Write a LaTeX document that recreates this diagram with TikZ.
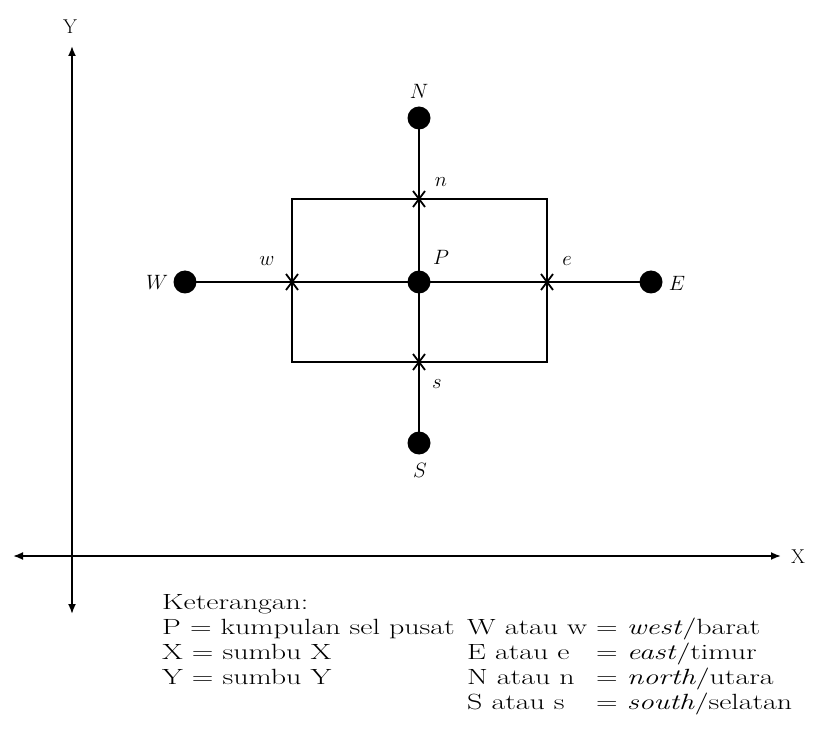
\documentclass[tikz,border=0pt]{standalone}
\usetikzlibrary{arrows.meta}
\begin{document}
\begin{tikzpicture}[x=1pt,y=-1pt,
  axis/.style={line width=1.8pt,{Latex[length=10pt,width=8pt]}-{Latex[length=10pt,width=8pt]}},
  dot/.style={circle,fill=black,inner sep=0pt,minimum size=23pt},
  lbl/.style={font=\fontsize{21}{22}\selectfont},
  axlbl/.style={font=\fontsize{20}{22}\selectfont},
  leg/.style={anchor=base west,inner sep=0pt,font=\fontsize{22}{25}\selectfont},
  crossmark/.style={line width=1.8pt},
  wire/.style={line width=2.5pt}]
\useasboundingbox (0,0) rectangle (815,754);
% axes
\coordinate (yT) at (72,46);
\coordinate (yB) at (72,614);
\coordinate (xL) at (13,556);
\coordinate (xR) at (781,556);
\draw[axis] (yB) -- (yT);
\draw[axis] (xL) -- (xR);
\node[axlbl] (ylab) at (70,27) {Y};
\node[axlbl] (xlab) at (798,557) {X};
% control volume
\node[draw,wire,minimum width=255pt,minimum height=163pt,inner sep=0pt] (cv) at (419.5,280.5) {};
% dots
\node[dot] (P) at (419,282) {};
\node[dot] (N) at (419,118) {};
\node[dot] (S) at (419,443) {};
\node[dot] (W) at (185,282) {};
\node[dot] (E) at (651,282) {};
\coordinate (cw) at (292,282);
\coordinate (ce) at (547,282);
\coordinate (cn) at (419,199);
\coordinate (cs) at (419,362);
\draw[wire] (W.center) -- (E.center);
\draw[wire] (N.center) -- (S.center);
% crosses
\foreach \c in {cw,ce,cn,cs}{
  \draw[crossmark] ([shift={(-6,-8)}]\c) -- ([shift={(6,8)}]\c);
  \draw[crossmark] ([shift={(6,-8)}]\c) -- ([shift={(-6,8)}]\c);
}
% labels
\node[lbl] (lN) at (419,91) {$N$};
\node[lbl] (lS) at (420,470) {$S$};
\node[lbl] (lW) at (157,282) {$W$};
\node[lbl] (lE) at (677,283) {$E$};
\node[lbl] (lP) at (441,257) {$P$};
\node[lbl] (ln) at (441,182) {$n$};
\node[lbl] (ls) at (437,384) {$s$};
\node[lbl] (lw) at (267,261) {$w$};
\node[lbl] (le) at (567,261) {$e$};
% legend
\node[leg] (legL) at (162,609) {\scalebox{1.36}[1]{\begin{tabular}[t]{@{}l@{}}
Keterangan:\\
P = kumpulan sel pusat\\
X = sumbu X\\
Y = sumbu Y
\end{tabular}}};
\node[leg] (legR) at (467,634) {\scalebox{1.36}[1]{\begin{tabular}[t]{@{}l@{\ }l@{}}
W atau w & = \textit{west}/barat\\
E atau e & = \textit{east}/timur\\
N atau n & = \textit{north}/utara\\
S atau s & = \textit{south}/selatan
\end{tabular}}};
\end{tikzpicture}
\end{document}
